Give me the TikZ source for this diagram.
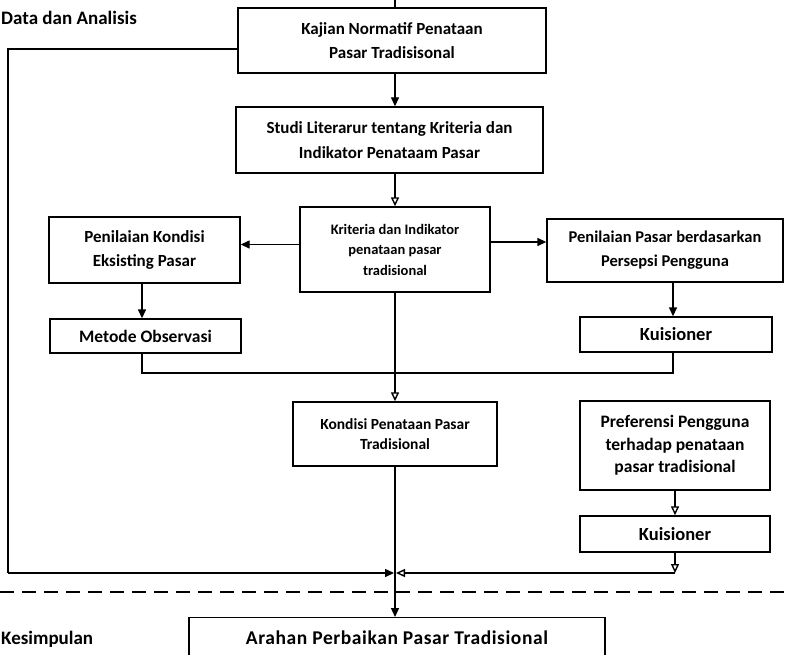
\documentclass[tikz,border=0pt]{standalone}
\usepackage{fontspec}
\setmainfont{Carlito}
\newfontfamily\widefont[LetterSpace=3]{Carlito}
\usetikzlibrary{arrows.meta}
\newcommand{\fs}[2]{\bfseries\fontsize{#1}{#2}\selectfont}
\begin{document}
\begin{tikzpicture}[x=1pt,y=-1pt,
  box/.style={draw, line width=1.4pt, align=center, inner sep=0pt},
  ln/.style={line width=1.4pt},
  arr/.style={ln, -{Triangle[length=9pt,width=8pt]}},
  oarr/.style={ln, -{Triangle[open,length=9pt,width=8pt]}},
  title/.style={font=\fs{19}{24}, inner sep=0pt},
  dline/.style={line width=1.4pt, dash pattern=on 14pt off 8pt}]
\useasboundingbox (0,0) rectangle (786,655);
\clip (0,0) rectangle (786,655);

\node[title, anchor=west] (tA) at (1,18) {Data dan Analisis};
\node[title, anchor=west] (tK) at (1,639) {Kesimpulan};

\node[box, minimum width=308pt, minimum height=65pt, font=\fs{17}{24}] (b1) at (392,40.5)
  {Kajian Normatif Penataan\\Pasar Tradisisonal};
\node[box, minimum width=307pt, minimum height=66pt, font=\fs{17}{25}] (b2) at (389.5,140)
  {Studi Literarur tentang Kriteria dan\\Indikator Penataam Pasar};
\node[box, minimum width=190pt, minimum height=85pt, font=\fs{14.5}{20.5}] (b3) at (395,249.5)
  {Kriteria dan Indikator\\penataan pasar\\tradisional};
\node[box, minimum width=191pt, minimum height=66pt, font=\fs{17}{24}] (b4) at (144.5,250)
  {Penilaian Kondisi\\Eksisting Pasar};
\node[box, minimum width=191pt, minimum height=34pt, font=\fs{17.5}{20}] (b5) at (145.5,336)
  {Metode Observasi};
\node[box, minimum width=236pt, minimum height=63pt, font=\fs{16.5}{24}] (b6) at (665,250.5)
  {Penilaian Pasar berdasarkan\\Persepsi Pengguna};
\node[box, minimum width=192pt, minimum height=35pt, font=\fs{18.5}{20}] (b7) at (676,334.5)
  {Kuisioner};
\node[box, minimum width=204pt, minimum height=64pt, font=\fs{15.5}{20}] (b8) at (395,434)
  {Kondisi Penataan Pasar\\Tradisional};
\node[box, minimum width=190pt, minimum height=89pt, font=\fs{17.5}{22.5}] (b9) at (675,445.5)
  {Preferensi Pengguna\\terhadap penataan\\pasar tradisional};
\node[box, minimum width=190pt, minimum height=36pt, font=\fs{18.5}{20}] (b10) at (675,534)
  {Kuisioner};
\node[draw, line width=1.4pt, minimum width=416pt, minimum height=60pt, anchor=north, inner sep=0pt] (b11) at (397,617) {};
\node[font=\widefont\fs{19.5}{22}, inner sep=0pt] (t11) at (397,638) {Arahan Perbaikan Pasar Tradisional};

\coordinate (T) at (395,-3);
\coordinate (cL) at (8,573);
\coordinate (J) at (395,573);
\coordinate (M) at (395,373);
\coordinate (R) at (675,573);
\coordinate (dl) at (0,592);
\coordinate (dr) at (786,592);

\draw[ln] (T) -- (T |- b1.north);
\draw[arr] (b1.south -| T) -- (b2.north -| T);
\draw[oarr] (b2.south -| b3) -- (b3.north);
\draw[arr] ([yshift=5pt]b3.west) -- ([yshift=5pt]b3.west -| b4.east);
\draw[arr] ([yshift=7.5pt]b3.east) -- ([yshift=7.5pt]b3.east -| b6.west);
\draw[arr] ([xshift=-2.5pt]b4.south) -- ([xshift=-2.5pt]b4.south |- b5.north);
\draw[arr] ([xshift=-3pt]b7.north |- b6.south) -- ([xshift=-3pt]b7.north);
\draw[ln] ([xshift=-3.5pt]b5.south) |- (M);
\draw[ln] ([xshift=-3pt]b7.south) |- (M);
\draw[oarr] (b3.south) -- (b8.north);
\draw[oarr] (b9.south) -- (b10.north);
\draw[ln] ([yshift=-8.5pt]b1.west) -| (cL);
\draw[arr, shorten >=1pt] (cL) -- (J);
\draw[oarr] (b10.south) -- (R);
\draw[oarr, shorten >=1pt] (R) -- (J);
\draw[arr] (b8.south -| T) -- (b11.north -| T);
\draw[dline] (dl) -- (dr);
\end{tikzpicture}
\end{document}
